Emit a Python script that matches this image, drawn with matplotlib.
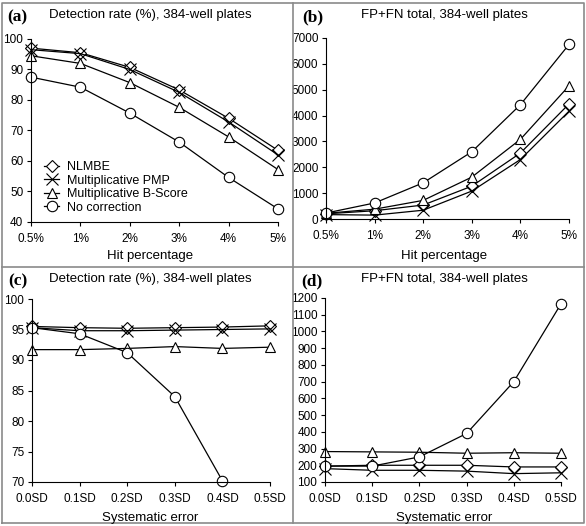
import numpy as np
import matplotlib.pyplot as plt
from matplotlib.lines import Line2D

plt.rcParams['font.family'] = ['Liberation Sans', 'DejaVu Sans']

hit_labels = ['0.5%', '1%', '2%', '3%', '4%', '5%']
sd_labels = ['0.0SD', '0.1SD', '0.2SD', '0.3SD', '0.4SD', '0.5SD']
series_names = ['NLMBE', 'Multiplicative PMP', 'Multiplicative B-Score', 'No correction']

# (a) detection rate vs hit percentage
a_nlmbe = [97.0, 95.5, 90.7, 83.3, 74.0, 63.5]
a_pmp = [96.5, 95.2, 90.0, 82.5, 72.8, 62.0]
a_bscore = [94.5, 92.0, 85.7, 77.6, 67.9, 57.2]
a_nocorr = [87.5, 84.2, 75.7, 66.2, 54.6, 44.3]

# (b) FP+FN vs hit percentage
b_nlmbe = [200, 320, 540, 1270, 2550, 4450]
b_pmp = [170, 150, 340, 1080, 2300, 4170]
b_bscore = [220, 380, 720, 1620, 3080, 5150]
b_nocorr = [230, 620, 1400, 2600, 4420, 6750]

# (c) detection rate vs systematic error
c_nlmbe = [95.5, 95.3, 95.2, 95.3, 95.4, 95.6]
c_pmp = [95.3, 94.8, 94.8, 94.9, 95.0, 95.1]
c_bscore = [91.7, 91.7, 91.9, 92.2, 91.9, 92.1]
c_nocorr = [95.3, 94.3, 91.2, 84.0, 70.2]

# (d) FP+FN vs systematic error
d_nlmbe = [195, 200, 200, 200, 190, 190]
d_pmp = [180, 170, 170, 165, 150, 155]
d_bscore = [282, 280, 278, 272, 275, 272]
d_nocorr = [195, 195, 250, 390, 700, 1165]

W, H = 586, 526
fig = plt.figure(figsize=(W / 100, H / 100), dpi=100)

markers = ['D', 'x', '^', 'o']
msizes = [6.5, 9, 7, 7.5]


def px(left, top, right, bottom):
    return [left / W, 1 - bottom / H, (right - left) / W, (bottom - top) / H]


def panel(rect, labels, data, ylim, yticks, letter, title, xlabel, cx, ty, ly):
    ax = fig.add_axes(px(*rect))
    for vals, m, ms, name in zip(data, markers, msizes, series_names):
        x = np.arange(len(vals))
        ax.plot(x, vals, color='black', linewidth=0.9, marker=m, markersize=ms,
                markerfacecolor='white', markeredgecolor='black', markeredgewidth=0.8,
                clip_on=False, label=name)
    ax.set_xlim(0, len(labels) - 1)
    ax.set_ylim(*ylim)
    ax.set_yticks(yticks)
    ax.set_xticks(np.arange(len(labels)))
    ax.set_xticklabels(labels)
    ax.spines['top'].set_visible(False)
    ax.spines['right'].set_visible(False)
    ax.tick_params(direction='out', length=3, width=0.8, labelsize=8.5)
    ax.tick_params(axis='x', pad=5)
    ax.tick_params(axis='y', pad=2.5)
    fig.text((rect[0] - 24) / W, 1 - (ty + 2) / H, letter, fontsize=12.5, fontweight='bold',
             family='Liberation Serif', va='center', ha='left')
    fig.text(cx / W, 1 - ty / H, title, fontsize=9.5, va='center', ha='center')
    fig.text(cx / W, 1 - ly / H, xlabel, fontsize=9.5, va='center', ha='center')
    return ax


ax_a = panel((31, 39, 278, 222), hit_labels, [a_nlmbe, a_pmp, a_bscore, a_nocorr],
             (40, 100), range(40, 101, 10), '(a)', 'Detection rate (%), 384-well plates',
             'Hit percentage', 150, 15, 256)
ax_a.legend(loc='lower left', bbox_to_anchor=(0.02, 0.0), frameon=False, fontsize=9,
            handlelength=1.2, handletextpad=0.6, labelspacing=0.12, borderaxespad=0.25)

panel((326, 38, 569, 219), hit_labels, [b_nlmbe, b_pmp, b_bscore, b_nocorr],
      (0, 7000), range(0, 7001, 1000), '(b)', 'FP+FN total, 384-well plates',
      'Hit percentage', 444, 15, 256)

panel((32, 299, 270, 482), sd_labels, [c_nlmbe, c_pmp, c_bscore, c_nocorr],
      (70, 100), range(70, 101, 5), '(c)', 'Detection rate (%), 384-well plates',
      'Systematic error', 150, 279, 518)

panel((325, 298, 561, 482), sd_labels, [d_nlmbe, d_pmp, d_bscore, d_nocorr],
      (100, 1200), range(100, 1201, 100), '(d)', 'FP+FN total, 384-well plates',
      'Systematic error', 444, 279, 518)

# panel frames
frame = dict(color='#8a8a8a', linewidth=1.2, transform=fig.transFigure)
x0, x1, xm = 2 / W, 584 / W, 293 / W
y0, y1, ym = 1 - 523 / H, 1 - 3 / H, 1 - 267 / H
fig.add_artist(Line2D([x0, x1, x1, x0, x0], [y0, y0, y1, y1, y0], **frame))
fig.add_artist(Line2D([xm, xm], [y0, y1], **frame))
fig.add_artist(Line2D([x0, x1], [ym, ym], **frame))

plt.savefig('out.png', dpi=100)
